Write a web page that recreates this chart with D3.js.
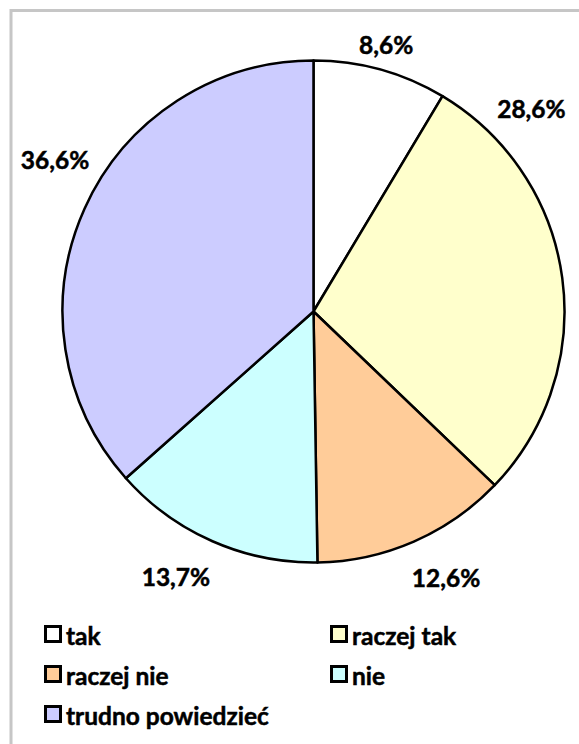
<!DOCTYPE html>
<html><head><meta charset="utf-8">
<script src="https://cdn.jsdelivr.net/npm/d3@7"></script>
<style>html,body{margin:0;padding:0;background:#fff;}svg{display:block;}</style>
</head><body>
<svg id="chart" width="579" height="744"></svg>
<script>
const categories = ["tak", "raczej tak", "raczej nie", "nie", "trudno powiedzieć"];
const values = [8.6, 28.6, 12.6, 13.7, 36.6];
const labels = ["8,6%", "28,6%", "12,6%", "13,7%", "36,6%"];
const colors = ["#FFFFFF", "#FFFFCC", "#FFCC99", "#CCFFFF", "#CCCCFF"];
// label placement (angle in degrees clockwise from top, distance from centre)
const labelAngles = [15.2, 47, 153.5, 207.4, 300.5];
const labelRadii = [277, 298, 297, 299, 300];

const svg = d3.select("#chart");
const font = "Lato, 'Open Sans', sans-serif";
const fs = 24.5;

svg.append("rect").attr("x", 11).attr("y", 10.5).attr("width", 600).attr("height", 800)
  .attr("fill", "#fff").attr("stroke", "#c6c6c6").attr("stroke-width", 3);

const cx = 313.5, cy = 311.5, r = 251;
const pie = d3.pie().sort(null).value(d => d)(values);
const arc = d3.arc().innerRadius(0).outerRadius(r);
const g = svg.append("g").attr("transform", `translate(${cx},${cy})`);
g.selectAll("path").data(pie).join("path")
  .attr("d", arc)
  .attr("fill", (d, i) => colors[i])
  .attr("stroke", "#000").attr("stroke-width", 2.5).attr("stroke-linejoin", "round");

g.selectAll("text.lbl").data(pie).join("text").attr("class", "lbl")
  .attr("x", (d, i) => labelRadii[i] * Math.sin(labelAngles[i] * Math.PI / 180))
  .attr("y", (d, i) => -labelRadii[i] * Math.cos(labelAngles[i] * Math.PI / 180))
  .attr("text-anchor", "middle").attr("dominant-baseline", "central")
  .attr("font-family", font).attr("font-weight", "bold").attr("font-size", fs)
  .attr("stroke", "#000").attr("stroke-width", 0.5)
  .text((d, i) => labels[i]);

// legend
const legX = [44, 330], legY0 = 634, legDy = 40;
const leg = svg.append("g");
categories.forEach((c, i) => {
  const col = i % 2, row = Math.floor(i / 2);
  const x = legX[col], y = legY0 + row * legDy;
  leg.append("rect").attr("x", x + 1.5).attr("y", y - 7.5).attr("width", 15).attr("height", 15)
    .attr("fill", colors[i]).attr("stroke", "#000").attr("stroke-width", 3);
  leg.append("text").attr("x", x + 22).attr("y", y + 1).attr("dominant-baseline", "central")
    .attr("font-family", font).attr("font-weight", "bold").attr("font-size", fs)
    .attr("stroke", "#000").attr("stroke-width", 0.5).text(c);
});
</script>
</body></html>
